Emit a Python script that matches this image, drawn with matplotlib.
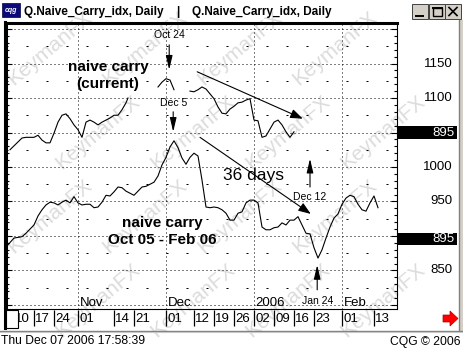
import numpy as np
import matplotlib

matplotlib.use("Agg")
import matplotlib.pyplot as plt
from matplotlib.patches import Rectangle, Polygon
from matplotlib.ticker import MultipleLocator

plt.rcParams["font.family"] = ["Liberation Sans", "DejaVu Sans"]
plt.rcParams["lines.scale_dashes"] = False

W, H = 463, 350

# x = weekdays counted from 1 Nov 2005
hist_day = [-18, -16, -14, -13, -11, -10, -9, -8, -7, -6, -5, -4, -3, -2, -1,
            0, 1, 2, 3, 4, 5, 6, 7, 8, 9, 10, 11, 12, 13, 14, 15, 16, 17, 18,
            19, 20, 21, 22, 23, 24, 25, 26, 27, 28, 29, 30, 31, 32, 33, 34, 35,
            36, 37, 38, 39, 40, 41, 42, 43, 44, 45, 46, 47, 48, 49, 50, 51, 52,
            53, 54, 55, 56, 57, 58, 59, 60, 61, 62, 63, 64, 65, 66, 67, 68, 69,
            70, 71, 72, 73, 74, 75]
hist_val = [884, 897, 899, 904, 916, 929, 938, 945, 949, 948, 945, 949, 952, 948, 957,
            948, 945, 946, 946, 941, 942, 949, 959, 958, 964, 971, 970, 965, 962, 959,
            965, 971, 972, 975, 978, 987, 1003, 1014, 1029, 1038, 1028, 1013, 1004,
            1014, 1020, 1016, 981, 942, 941, 942, 941, 938, 933, 923, 923, 933, 935,
            948, 952, 952, 948, 913, 909, 909, 912, 913, 919, 916, 923, 923, 928,
            916, 904, 903, 883, 868, 880, 897, 913, 926, 932, 946, 955, 959, 957,
            946, 938, 936, 948, 958, 941]

# current run, overlaid on the same weekday axis; NaN splits the line
cur_day = [-17, -14, -13, -11, -10, -9, -8, -7, -6, -5, -4, -3, -2, -1, 0, 1, 2, 3,
           4, 5, 6, 7, 8, 9, 10, 11, 12, 12.5,
           16,
           20, 21, 22, 23, 24,
           26,
           28, 29, 30, 31, 32, 33, 34, 35, 36, 37, 38, 39, 40, 41, 42, 43, 44, 45,
           46, 47, 48, 49, 50, 51, 52, 53, 54]
cur_val = [1025, 1042, 1043, 1043, 1046, 1039, 1035, 1035, 1049, 1065, 1075, 1077,
           1070, 1061, 1054, 1043, 1065, 1068, 1065, 1061, 1065, 1068, 1071, 1075,
           1075, 1083, 1093, 1100,
           np.nan,
           1116, 1123, 1128, 1126, 1112,
           np.nan,
           1110, 1109, 1112, 1116, 1113, 1106, 1099, 1087, 1078, 1077, 1084, 1088,
           1093, 1094, 1097, 1099, 1068, 1067, 1043, 1045, 1055, 1065, 1068, 1061,
           1051, 1043, 1051]

tick_dates = ["2005-10-10", "2005-10-17", "2005-10-24", "2005-11-01", "2005-11-14",
              "2005-11-21", "2005-12-01", "2005-12-12", "2005-12-19", "2005-12-26",
              "2006-01-02", "2006-01-09", "2006-01-16", "2006-01-23", "2006-02-01",
              "2006-02-13"]
tick_text = ["10", "17", "24", "01", "14", "21", "01", "12", "19", "26", "02", "09",
             "16", "23", "01", "13"]
month_dates = ["2005-11-01", "2005-12-01", "2006-01-02", "2006-02-01"]
month_text = ["Nov", "Dec", "2006", "Feb"]

price_labels = [1150, 1100, 1000, 950, 850]
last_tags = [1050, 895]
last_text = "895"

# (label, x, text y, arrow tail y, arrow tip y)
markers = [("Oct 24", 22.8, 1191, 1177, 1141),
           ("Dec 5", 23.8, 1093, 1080, 1051),
           ("Dec 12", 58.0, 957, 971, 1012),
           ("Jan 24", 59.8, 806, 822, 858)]
# (tail x, tail y, tip x, tip y)
trends = [(29.8, 1138, 56.2, 1070),
          (30.5, 1043, 58.2, 932)]

origin = "2005-11-01"
tick_x = np.busday_count(origin, tick_dates)
month_x = np.busday_count(origin, month_dates)


def frac(x0, y0, x1, y1):
    # pixel box (top-left origin) -> figure fraction rect
    return [x0 / W, (H - y1) / H, (x1 - x0) / W, (y1 - y0) / H]


fig = plt.figure(figsize=(W / 100, H / 100), dpi=100)

# window chrome, drawn in pixel units
chrome = fig.add_axes([0, 0, 1, 1])
chrome.set_xlim(0, W)
chrome.set_ylim(H, 0)
chrome.axis("off")

# tiled watermark, kept inside the window
for r in range(4):
    for c in range(5):
        cx = 50 + c * 95 + (r % 2) * 48
        cy = 48 + r * 84
        if cx > 420:
            continue
        chrome.text(cx, cy, "KeymanFX", rotation=40, fontsize=15, color="#dcdcdc",
                    ha="center", va="center", zorder=0)

chrome.add_patch(Rectangle((2, 3), 18, 14, facecolor="#0a0a78", edgecolor="#000040", lw=0.5))
chrome.text(11, 10.5, "cqg", color="white", fontsize=5, style="italic",
            ha="center", va="center", fontweight="bold")
chrome.text(24, 12, "Q.Naive_Carry_idx, Daily", fontsize=8.5, fontweight="bold",
            va="center", ha="left")
chrome.text(178, 12, "|", fontsize=8.5, fontweight="bold", va="center", ha="center")
chrome.text(192, 12, "Q.Naive_Carry_idx, Daily", fontsize=8.5, fontweight="bold",
            va="center", ha="left")
for bx in (412, 429, 445):
    chrome.add_patch(Rectangle((bx, 4), 16, 15, facecolor="#d4d0c8", edgecolor="#404040", lw=0.7))
chrome.plot([416, 423], [15.5, 15.5], color="black", lw=1.4)
chrome.add_patch(Rectangle((432.5, 7.5), 9, 8, facecolor="none", edgecolor="black", lw=1.0))
chrome.plot([432.5, 441.5], [8, 8], color="black", lw=1.4)
chrome.plot([449, 457], [7.5, 15.5], color="black", lw=1.2)
chrome.plot([449, 457], [15.5, 7.5], color="black", lw=1.2)

chrome.plot([458.5, 458.5], [20, 331], color="#808080", lw=1.0)
chrome.add_patch(Rectangle((459, 20), 4, 311, facecolor="#d4d0c8", edgecolor="none"))
chrome.plot([0, W], [330.5, 330.5], color="#808080", lw=1.0)
chrome.plot([0, W], [332, 332], color="#c8c8c8", lw=0.8)
chrome.plot([4.5, 4.5], [22, 328], color="black", lw=2.2)
chrome.add_patch(Polygon([(443, 315), (450, 315), (450, 311), (458, 318.5), (450, 326),
                          (450, 322), (443, 322)], closed=True,
                         facecolor="#ff0000", edgecolor="#b00000", lw=0.5))
chrome.text(1, 341, "Thu Dec 07 2006 17:58:39", fontsize=8.7, va="center", ha="left")
chrome.text(461, 342, "CQG \u00a9 2006", fontsize=8.7, va="center", ha="right")

# price panel
ax = fig.add_axes(frac(6, 23, 397, 309))
ax.set_facecolor("none")
ax.set_xlim(-18, 79.75)
ax.set_ylim(794.2, 1208.7)

major = np.arange(800, 1201, 50)
minor = np.arange(825, 1201, 50)
ax.hlines(major, -18, 79.75, colors="black", lw=0.72, linestyles=[(0, (0.72, 2.16))])
ax.hlines(minor, -18, 79.75, colors="black", lw=0.72, linestyles=[(0, (1.44, 12.96))])
ax.vlines(month_x, 794.2, 1208.7, colors="black", lw=0.72, linestyles=[(0, (0.72, 2.16))])

ax.plot(hist_day, hist_val, color="black", lw=0.8)
ax.plot(cur_day, cur_val, color="black", lw=0.8)

for name, x, ty, y0, y1 in markers:
    ax.text(x, ty, name, fontsize=7.5, ha="center", va="center")
    ax.annotate("", xy=(x, y1), xytext=(x, y0),
                arrowprops=dict(arrowstyle="-|>,head_length=0.85,head_width=0.2",
                                mutation_scale=10, color="black", lw=0.8,
                                shrinkA=0, shrinkB=0))
for x0, y0, x1, y1 in trends:
    ax.annotate("", xy=(x1, y1), xytext=(x0, y0),
                arrowprops=dict(arrowstyle="-|>,head_length=0.75,head_width=0.28",
                                mutation_scale=10, color="black", lw=0.8,
                                shrinkA=0, shrinkB=0))

ax.text(7.5, 1133, "naive carry\n(current)", fontsize=11, fontweight="bold",
        ha="center", va="center", linespacing=1.25)
ax.text(21, 906, "naive carry\nOct 05 - Feb 06", fontsize=11, fontweight="bold",
        ha="center", va="center", linespacing=1.25)
ax.text(44, 987, "36 days", fontsize=12.5, ha="center", va="center")

for mx, mt in zip(month_x, month_text):
    ax.text(mx + 0.4, 803, mt, fontsize=9.5, ha="left", va="center")

ax.yaxis.set_major_locator(MultipleLocator(50))
ax.yaxis.set_minor_locator(MultipleLocator(10))
ax.tick_params(axis="y", which="both", direction="in", left=True, right=True,
               labelleft=False, labelright=False, width=0.8)
ax.tick_params(axis="y", which="major", length=4)
ax.tick_params(axis="y", which="minor", length=2)
ax.tick_params(axis="x", which="both", bottom=False, top=False, labelbottom=False)
for side in ("left", "top"):
    ax.spines[side].set_linewidth(2.2)
for side in ("right", "bottom"):
    ax.spines[side].set_linewidth(0.8)

ylab = ax.get_yaxis_transform()
for v in price_labels:
    ax.text(1.1432, v, str(v), transform=ylab, fontsize=9.5, ha="right", va="center",
            clip_on=False)
for v in last_tags:
    ax.add_patch(Rectangle((1.0, v - 8.7), 0.1535, 17.4, transform=ylab,
                           facecolor="black", edgecolor="none", clip_on=False))
    ax.text(1.1483, v, last_text, transform=ylab, fontsize=9.5, ha="right", va="center",
            color="white", clip_on=False)

# date strip under the price panel
dx = fig.add_axes(frac(6, 309, 397, 328), sharex=ax)
dx.set_facecolor("none")
dx.set_ylim(0, 1)
dx.axis("off")
dx.vlines(tick_x, 0.08, 0.95, colors="black", lw=0.9)
for tx, tt in zip(tick_x, tick_text):
    dx.text(tx + 0.35, 0.5, tt, fontsize=9.5, ha="left", va="center")

# blank box over the start of the date strip
fig.add_artist(Rectangle((6 / W, (H - 328) / H), 12 / W, 18 / H, transform=fig.transFigure,
                         facecolor="white", edgecolor="black", lw=0.8, zorder=5))

fig.savefig("out.png", dpi=100)
